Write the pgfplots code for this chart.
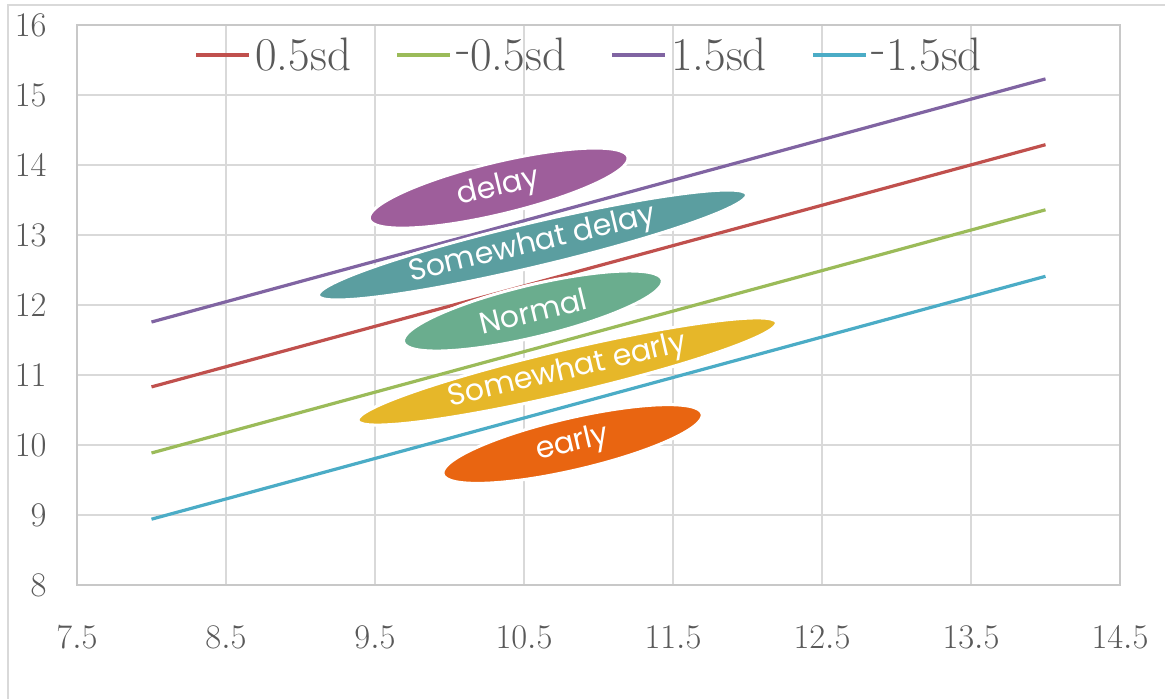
\documentclass[border=0pt]{standalone}
\usepackage{pgfplots}
\pgfplotsset{compat=1.18}
\usepackage{fontspec}
\newfontfamily\shapefont{Poppins}
\usetikzlibrary{shapes.geometric}
\definecolor{cRed}{HTML}{C0504D}
\definecolor{cGreen}{HTML}{9BBB59}
\definecolor{cPurple}{HTML}{8064A2}
\definecolor{cTeal}{HTML}{4BACC6}
\definecolor{eDelay}{HTML}{9E5E9B}
\definecolor{eSDelay}{HTML}{5B9EA0}
\definecolor{eNormal}{HTML}{6AAD8E}
\definecolor{eSEarly}{HTML}{E6B729}
\definecolor{eEarly}{HTML}{E96511}
\definecolor{gridc}{HTML}{D9D9D9}
\definecolor{axisc}{HTML}{C8C8C8}
\definecolor{tickc}{HTML}{595959}
\definecolor{framec}{HTML}{D9D9D9}
\begin{document}
\begin{tikzpicture}
\useasboundingbox (-38.5pt,-57pt) rectangle (544pt,292.5pt);
\draw[color=framec, line width=1pt] (-34.5pt,-57pt) -- (-34.5pt,290pt) -- (544pt,290pt);
\begin{axis}[
  at={(0pt,0pt)}, anchor=south west,
  scale only axis, width=521.5pt, height=280pt,
  xmin=7.5, xmax=14.5, ymin=8, ymax=16,
  xtick={7.5,8.5,9.5,10.5,11.5,12.5,13.5,14.5},
  ytick={8,9,10,11,12,13,14,15,16},
  grid=major, grid style={color=gridc, line width=0.75pt},
  major tick length=0pt,
  axis line style={color=axisc, line width=0.75pt},
  tick label style={font=\fontsize{16}{19}\selectfont, text=tickc},
  xticklabel style={inner sep=0pt, anchor=north, yshift=-20.5pt},
  yticklabel style={inner sep=0pt, anchor=east, xshift=-15pt},
  legend image code/.code={\draw[#1, line width=2pt] (0pt,0pt) -- (26.5pt,0pt);},
  legend style={at={(0.492,0.946)}, anchor=center, draw=none, fill=none,
    legend columns=4, font=\fontsize{23.5}{27}\selectfont, text=tickc,
    /tikz/every even column/.append style={column sep=20pt},
    inner sep=0pt, nodes={inner sep=2pt}},
]
\addplot[cRed, line width=1.6pt] coordinates {(8,10.83) (14,14.29)};
\addlegendentry{0.5sd}
\addplot[cGreen, line width=1.6pt] coordinates {(8,9.886) (14,13.36)};
\addlegendentry{\raisebox{0.14em}{-}0.5sd}
\addplot[cPurple, line width=1.6pt] coordinates {(8,11.757) (14,15.23)};
\addlegendentry{1.5sd}
\addplot[cTeal, line width=1.6pt] coordinates {(8,8.94) (14,12.41)};
\addlegendentry{\raisebox{0.14em}{-}1.5sd}

\node[ellipse, fill=eDelay, draw=white, line width=1.5pt, minimum width=133pt, minimum height=26pt, inner sep=0pt, rotate=13.5, text=white, font=\shapefont\fontsize{15}{18}\selectfont] at (axis cs:10.33,13.67) {delay};
\node[ellipse, fill=eSDelay, draw=white, line width=1.5pt, minimum width=220pt, minimum height=22pt, inner sep=0pt, rotate=13.3, text=white, font=\shapefont\fontsize{15}{18}\selectfont] at (axis cs:10.557,12.857) {Somewhat delay};
\node[ellipse, fill=eNormal, draw=white, line width=1.5pt, minimum width=133pt, minimum height=26pt, inner sep=0pt, rotate=13.5, text=white, font=\shapefont\fontsize{15}{18}\selectfont] at (axis cs:10.56,11.914) {Normal};
\node[ellipse, fill=eSEarly, draw=white, line width=1.5pt, minimum width=215pt, minimum height=22pt, inner sep=0pt, rotate=13.2, text=white, font=\shapefont\fontsize{15}{18}\selectfont] at (axis cs:10.79,11.05) {Somewhat early};
\node[ellipse, fill=eEarly, draw=white, line width=1.5pt, minimum width=133pt, minimum height=26pt, inner sep=0pt, rotate=13.1, text=white, font=\shapefont\fontsize{15}{18}\selectfont] at (axis cs:10.826,10.014) {early};
\end{axis}
\end{tikzpicture}
\end{document}
